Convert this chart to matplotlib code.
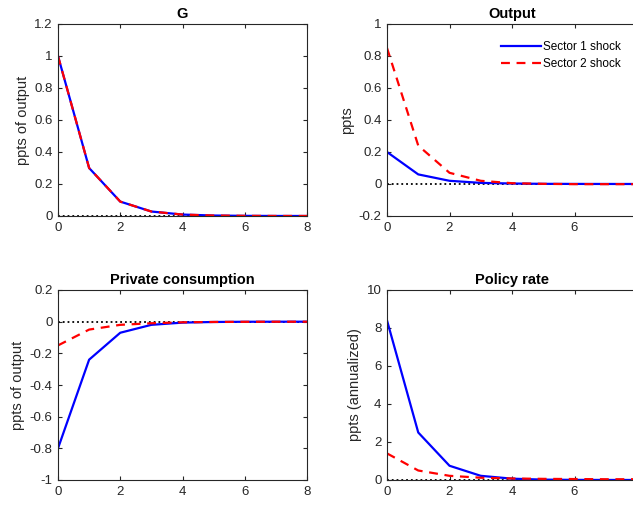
import numpy as np
import matplotlib
matplotlib.use("Agg")
import matplotlib.pyplot as plt

plt.rcParams["font.family"] = ["Liberation Sans", "DejaVu Sans"]

# ---------------------------------------------------------------- data
horizon = [0, 1, 2, 3, 4, 5, 6, 7, 8]

g_s1 = [1.0, 0.30, 0.09, 0.028, 0.009, 0.003, 0.001, 0.0003, 0.0001]
g_s2 = [1.0, 0.30, 0.09, 0.028, 0.009, 0.003, 0.001, 0.0003, 0.0001]

y_s1 = [0.20, 0.06, 0.02, 0.007, 0.003, 0.001, 0.0005, 0.0002, 0.0001]
y_s2 = [0.85, 0.24, 0.07, 0.02, 0.005, 0.001, -0.001, -0.001, -0.001]

c_s1 = [-0.80, -0.24, -0.07, -0.02, -0.006, -0.002, -0.0006, -0.0002, -0.0001]
c_s2 = [-0.15, -0.05, -0.02, -0.01, -0.004, -0.002, -0.001, -0.0005, -0.0003]

r_s1 = [8.4, 2.5, 0.75, 0.22, 0.07, 0.02, 0.006, 0.002, 0.001]
r_s2 = [1.4, 0.5, 0.22, 0.12, 0.08, 0.06, 0.05, 0.04, 0.04]

panels = [
    ("G", "ppts of output", g_s1, g_s2, (0, 1.2), [0, 0.2, 0.4, 0.6, 0.8, 1, 1.2]),
    ("Output", "ppts", y_s1, y_s2, (-0.2, 1), [-0.2, 0, 0.2, 0.4, 0.6, 0.8, 1]),
    ("Private consumption", "ppts of output", c_s1, c_s2, (-1, 0.2),
     [-1, -0.8, -0.6, -0.4, -0.2, 0, 0.2]),
    ("Policy rate", "ppts (annualized)", r_s1, r_s2, (0, 10), [0, 2, 4, 6, 8, 10]),
]

# ---------------------------------------------------------------- figure
W, H = 633, 507
fig = plt.figure(figsize=(W / 100, H / 100), dpi=100)
fig.patch.set_facecolor("white")

# axes boxes in pixels: left, top, right, bottom (right column runs off the page)
boxes = [(58, 24, 307, 216), (387, 24, 637, 216),
         (58, 290, 307, 480), (387, 290, 637, 480)]

axc = "#262626"
for (title, ylab, s1, s2, ylim, yticks), (l, t, r, b) in zip(panels, boxes):
    ax = fig.add_axes([l / W, 1 - b / H, (r - l) / W, (b - t) / H])
    ax.plot(horizon, [0] * len(horizon), color="black", ls=":", lw=1.3)
    ax.plot(horizon, s1, color="#0000ff", lw=1.6, label="Sector 1 shock")
    ax.plot(horizon, s2, color="#ff0000", lw=1.6, ls=(0, (4, 3)),
            label="Sector 2 shock")
    ax.set_xlim(0, 8)
    ax.set_ylim(*ylim)
    ax.set_xticks([0, 2, 4, 6, 8])
    ax.set_yticks(yticks)
    ax.set_yticklabels([f"{v:g}" for v in yticks])
    ax.set_title(title, fontsize=10.5, fontweight="bold", color="black", pad=4)
    ax.set_ylabel(ylab, fontsize=10.5, color=axc, labelpad=3)
    ax.tick_params(direction="in", top=True, right=True, length=3,
                   labelsize=9.5, colors=axc, pad=4)
    for sp in ax.spines.values():
        sp.set_color(axc)
        sp.set_linewidth(0.8)
    if title == "Output":
        ax.legend(loc="upper right", bbox_to_anchor=(0.97, 0.955), frameon=False,
                  fontsize=8.5, handlelength=3.4, handletextpad=0.2,
                  labelspacing=0.45, borderaxespad=0.3)

fig.savefig("out.png", dpi=100, facecolor="white")
